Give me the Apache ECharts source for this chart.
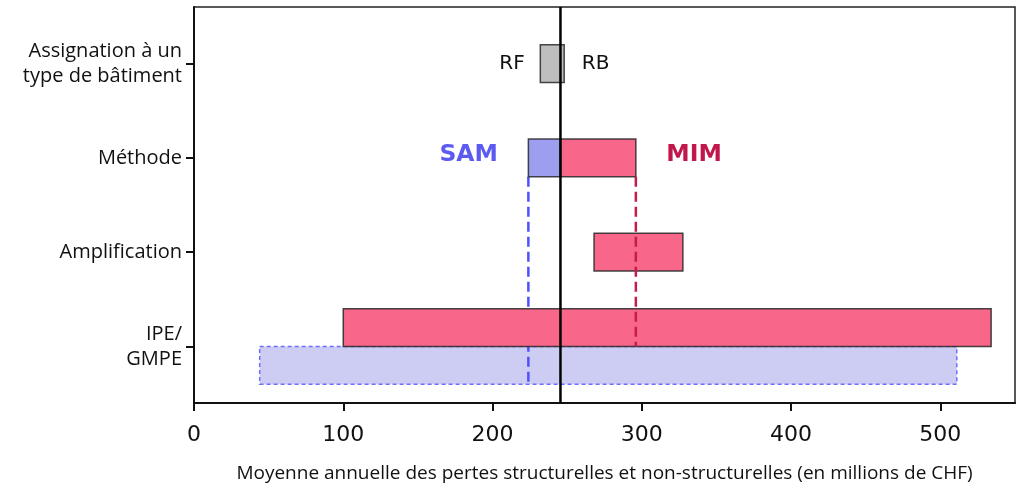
<!DOCTYPE html>
<html>
<head>
<meta charset="utf-8">
<script src="https://cdn.jsdelivr.net/npm/echarts@6/dist/echarts.min.js"></script>
<style>
  html, body { margin: 0; padding: 0; background: #fff; }
  #main { width: 1036px; height: 484px; }
</style>
</head>
<body>
<div id="main"></div>
<script>
// rows on the y axis, bottom to top (value 0..3)
const categories = ['IPE/\nGMPE', 'Amplification', 'Méthode', 'Assignation à un\ntype de bâtiment'];
const xTicks = [0, 100, 200, 300, 400, 500];

// bars: [start, end, y]
const rfRbBars = [[232, 248, 3]];
const samBars = [[224, 245.5, 2]];
const mimBars = [[245.5, 296, 2], [268, 327.5, 1], [100, 534, 0.2]];
const samEnvelope = [[44, 511, -0.2]];

// dashed guides: [x, yFrom, yTo]
const samGuide = [[224, 1.8, -0.4]];
const mimGuide = [[296, 1.8, 0]];

// reference (vertical black line)
const referenceValue = [[245.5]];

// annotations: [x, y]
const textPos = [[213, 3], [269, 3], [184, 2.03], [335, 2.03]];
const textNames = ['RF', 'RB', 'SAM', 'MIM'];

const BAR_H = 0.4;
const Y_MIN = -0.6, Y_MAX = 3.6;

function barRender(style) {
    return function (params, api) {
        const s = api.coord([api.value(0), api.value(2)]);
        const e = api.coord([api.value(1), api.value(2)]);
        const h = api.size([0, BAR_H])[1];
        return {
            type: 'rect',
            shape: { x: s[0], y: s[1] - h / 2, width: e[0] - s[0], height: h },
            style: style
        };
    };
}

function guideRender(style) {
    return function (params, api) {
        const a = api.coord([api.value(0), api.value(1)]);
        const b = api.coord([api.value(0), api.value(2)]);
        return {
            type: 'line',
            shape: { x1: a[0], y1: a[1], x2: b[0], y2: b[1] },
            style: style
        };
    };
}

const textStyles = {
    RF: { fill: '#111', font: '20px "DejaVu Sans"' },
    RB: { fill: '#111', font: '20px "DejaVu Sans"' },
    SAM: { fill: '#5b5bf2', font: 'bold 23.5px "DejaVu Sans"' },
    MIM: { fill: '#c2174a', font: 'bold 23.5px "DejaVu Sans"' }
};

const myChart = echarts.init(document.getElementById('main'));
myChart.setOption({
    animation: false,
    grid: {
        left: 194, right: 21, top: 7, bottom: 81,
        outerBoundsMode: 'none',
        show: true, borderColor: '#222', borderWidth: 1.5
    },
    xAxis: {
        type: 'value',
        min: 0, max: 550, interval: 100,
        splitLine: { show: false },
        axisLine: { show: true, onZero: false, lineStyle: { color: '#111', width: 2 } },
        axisTick: { show: true, length: 8, lineStyle: { color: '#111', width: 2 }, customValues: xTicks },
        axisLabel: {
            customValues: xTicks,
            margin: 21,
            color: '#111',
            fontFamily: 'DejaVu Sans',
            fontSize: 22
        },
        name: 'Moyenne annuelle des pertes structurelles et non-structurelles (en millions de CHF)',
        nameLocation: 'middle',
        nameGap: 61,
        nameTextStyle: { color: '#111', fontFamily: 'Open Sans', fontSize: 19 }
    },
    yAxis: {
        type: 'value',
        min: Y_MIN, max: Y_MAX,
        splitLine: { show: false },
        axisLine: { show: true, onZero: false, lineStyle: { color: '#111', width: 2 } },
        axisTick: { show: true, length: 8, lineStyle: { color: '#111', width: 2 }, customValues: [0, 1, 2, 3] },
        axisLabel: {
            customValues: [0, 1, 2, 3],
            formatter: function (v) { return categories[Math.round(v)]; },
            margin: 12,
            color: '#111',
            fontFamily: 'Open Sans',
            fontSize: 20,
            lineHeight: 25,
            align: 'right'
        }
    },
    series: [
        {
            type: 'custom', name: 'SAM IPE', z: 1,
            renderItem: barRender({ fill: '#cdcdf3', stroke: '#6e6eff', lineWidth: 1.5, lineDash: [4, 3] }),
            data: samEnvelope
        },
        {
            type: 'custom', name: 'SAM guide', z: 2,
            renderItem: guideRender({ stroke: '#5050ff', lineWidth: 2.5, lineDash: [10, 5] }),
            data: samGuide
        },
        {
            type: 'custom', name: 'RF/RB', z: 3,
            renderItem: barRender({ fill: '#bebebe', stroke: 'rgba(40,40,40,0.85)', lineWidth: 1.5 }),
            data: rfRbBars
        },
        {
            type: 'custom', name: 'SAM', z: 3,
            renderItem: barRender({ fill: '#9e9ef0', stroke: 'rgba(40,40,40,0.85)', lineWidth: 1.5 }),
            data: samBars
        },
        {
            type: 'custom', name: 'MIM', z: 3,
            renderItem: barRender({ fill: '#f8668a', stroke: 'rgba(40,40,40,0.85)', lineWidth: 1.5 }),
            data: mimBars
        },
        {
            type: 'custom', name: 'MIM guide', z: 4,
            renderItem: guideRender({ stroke: '#c41c4c', lineWidth: 2.5, lineDash: [10, 5] }),
            data: mimGuide
        },
        {
            type: 'custom', name: 'reference', z: 5,
            renderItem: function (params, api) {
                const a = api.coord([api.value(0), Y_MIN]);
                const b = api.coord([api.value(0), Y_MAX]);
                return {
                    type: 'line',
                    shape: { x1: a[0], y1: a[1], x2: b[0], y2: b[1] },
                    style: { stroke: '#000', lineWidth: 2.5 }
                };
            },
            data: referenceValue
        },
        {
            type: 'custom', name: 'labels', z: 6,
            renderItem: function (params, api) {
                const p = api.coord([api.value(0), api.value(1)]);
                const name = textNames[params.dataIndex];
                const st = textStyles[name];
                return {
                    type: 'text',
                    x: p[0], y: p[1],
                    style: { text: name, fill: st.fill, font: st.font, align: 'center', verticalAlign: 'middle' }
                };
            },
            data: textPos
        }
    ]
});
</script>
</body>
</html>
